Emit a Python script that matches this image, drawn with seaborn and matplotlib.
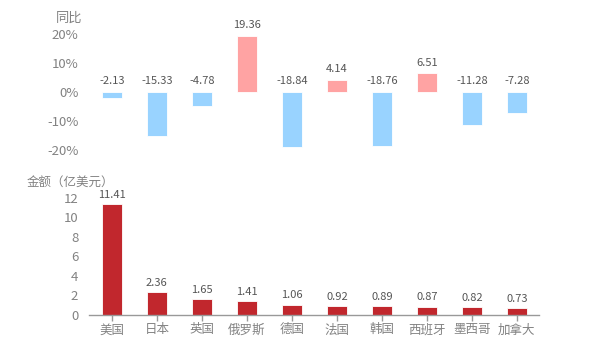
import matplotlib
matplotlib.use("Agg")
import matplotlib.pyplot as plt
import seaborn as sns
import pandas as pd

countries = ["美国", "日本", "英国", "俄罗斯", "德国", "法国", "韩国", "西班牙", "墨西哥", "加拿大"]
yoy = [-2.13, -15.33, -4.78, 19.36, -18.84, 4.14, -18.76, 6.51, -11.28, -7.28]
amount = [11.41, 2.36, 1.65, 1.41, 1.06, 0.92, 0.89, 0.87, 0.82, 0.73]

sns.set_theme(style="white")
plt.rcParams["font.family"] = ["Noto Sans CJK SC", "DejaVu Sans"]

tick_c = "#828282"
lab_c = "#555555"
blue = "#99D3FF"
pink = "#FFA3A3"
red = "#C1272D"

df = pd.DataFrame({"country": countries, "yoy": yoy, "amount": amount})
df["sign"] = ["up" if v >= 0 else "down" for v in yoy]

fig = plt.figure(figsize=(6, 3.5), dpi=100)
ax1 = fig.add_axes([0.149, 0.5714, 0.75, 0.3315])
ax2 = fig.add_axes([0.149, 0.10, 0.75, 0.3343])

# top: year-on-year change
sns.barplot(data=df, x="country", y="yoy", hue="sign", palette={"up": pink, "down": blue},
            dodge=False, legend=False, width=0.44, ax=ax1, saturation=1,
            edgecolor="white", linewidth=0.6)
ax1.set_ylim(-20, 20)
ax1.set_xlim(-0.5, 9.5)
ax1.set_yticks([-20, -10, 0, 10, 20])
ax1.set_yticklabels(["-20%", "-10%", "0%", "10%", "20%"])
ax1.set_xticks([])
ax1.set_xlabel("")
ax1.set_ylabel("")
for s in ax1.spines.values():
    s.set_visible(False)
ax1.tick_params(axis="y", colors=tick_c, labelsize=9.5, length=0, pad=8)
for i, v in enumerate(yoy):
    base = max(v, 0)
    ax1.annotate(f"{v:.2f}", (i, base), xytext=(0, 4), textcoords="offset points",
                 ha="center", va="bottom", fontsize=8, color=lab_c)
fig.text(0.137, 0.93, "同比", ha="right", va="bottom", fontsize=9.5, color=tick_c)

# bottom: amount
sns.barplot(data=df, x="country", y="amount", color=red, width=0.44, ax=ax2,
            saturation=1, edgecolor="white", linewidth=0.6)
ax2.set_ylim(0, 12)
ax2.set_xlim(-0.5, 9.5)
ax2.set_yticks([0, 2, 4, 6, 8, 10, 12])
ax2.set_xlabel("")
ax2.set_ylabel("")
for k in ["top", "right", "left"]:
    ax2.spines[k].set_visible(False)
ax2.spines["bottom"].set_color("#999999")
ax2.spines["bottom"].set_linewidth(1.0)
ax2.tick_params(axis="y", colors=tick_c, labelsize=9.5, length=0, pad=8)
ax2.tick_params(axis="x", colors="#999999", labelcolor=tick_c, labelsize=9,
                length=4, width=1, bottom=True, direction="out", pad=2)
for i, v in enumerate(amount):
    ax2.annotate(f"{v:.2f}", (i, v), xytext=(0, 3), textcoords="offset points",
                 ha="center", va="bottom", fontsize=8, color=lab_c)
fig.text(0.045, 0.478, "金额（亿美元）", ha="left", va="center", fontsize=9, color=tick_c)

fig.savefig("out.png", dpi=100)
